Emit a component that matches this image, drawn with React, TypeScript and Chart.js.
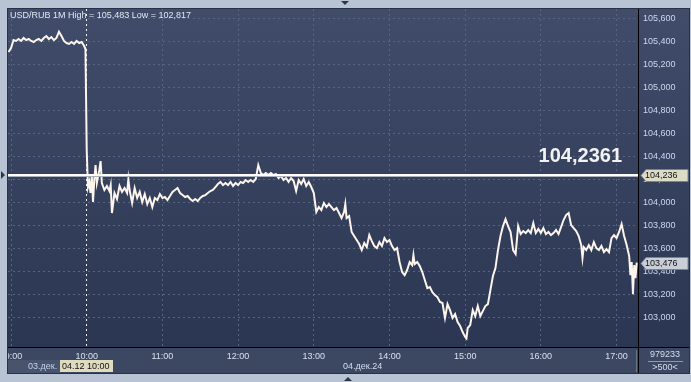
import React, { useEffect, useRef } from 'react';
import { Chart, registerables } from 'chart.js';

Chart.register(...registerables);

// ---- data (minutes after 09:00, USD/RUB price) ----
const minutes = [
  -2, 0, 2, 4, 6, 8, 10, 12, 14, 16,
  18, 20, 22, 24, 26, 28, 30, 32, 34, 36,
  38, 40, 42, 44, 46, 48, 50, 52, 54, 56,
  58, 59, 60, 61, 62, 63, 64, 65, 66, 67,
  68, 70, 71, 72, 74, 76, 78, 79, 80, 82,
  84, 86, 88, 90, 92, 93, 94, 96, 98, 100,
  102, 104, 106, 108, 110, 112, 114, 116, 118, 120,
  122, 124, 126, 128, 130, 132, 134, 136, 138, 140,
  142, 144, 146, 148, 150, 152, 154, 156, 158, 160,
  162, 164, 166, 168, 170, 172, 174, 176, 178, 180,
  182, 184, 186, 188, 190, 192, 194, 196, 198, 200,
  202, 204, 206, 208, 210, 212, 214, 216, 218, 220,
  222, 224, 226, 228, 230, 232, 234, 236, 238, 240,
  242, 244, 246, 248, 250, 252, 254, 256, 258, 260,
  262, 264, 265, 266, 268, 270, 272, 274, 276, 278,
  280, 282, 284, 286, 288, 290, 292, 294, 296, 298,
  300, 302, 304, 306, 308, 310, 312, 314, 316, 318,
  319, 320, 322, 324, 326, 328, 330, 332, 334, 336,
  338, 340, 342, 344, 346, 348, 350, 352, 354, 356,
  358, 360, 361, 362, 364, 366, 368, 370, 372, 374,
  376, 378, 380, 382, 384, 386, 388, 390, 392, 394,
  396, 398, 400, 402, 404, 406, 408, 410, 412, 414,
  416, 418, 420, 422, 424, 426, 428, 430, 432, 434,
  436, 438, 440, 442, 444, 446, 448, 450, 452, 453,
  454, 456, 458, 460, 462, 464, 466, 468, 470, 472,
  474, 476, 478, 480, 482, 484, 486, 488, 490, 491,
  492, 493, 494, 495, 496,
];

const prices = [
  105.307, 105.342, 105.411, 105.403, 105.420, 105.403, 105.429, 105.411, 105.420, 105.403,
  105.394, 105.411, 105.420, 105.403, 105.429, 105.446, 105.420, 105.437, 105.411, 105.429,
  105.483, 105.446, 105.403, 105.385, 105.377, 105.394, 105.377, 105.403, 105.385, 105.394,
  105.359, 105.333, 104.455, 104.133, 104.177, 104.081, 104.237, 104.003, 104.194, 104.324,
  104.168, 104.281, 104.359, 104.168, 104.107, 104.142, 104.098, 104.150, 103.907, 104.081,
  104.029, 104.142, 104.090, 104.124, 104.081, 104.203, 104.107, 103.994, 104.124, 104.038,
  104.090, 104.003, 104.072, 103.985, 104.038, 103.959, 104.038, 104.020, 104.072, 104.038,
  104.046, 104.020, 104.055, 104.090, 104.107, 104.124, 104.081, 104.063, 104.046, 104.055,
  104.029, 104.011, 104.029, 104.011, 104.038, 104.055, 104.063, 104.081, 104.098, 104.107,
  104.133, 104.159, 104.177, 104.150, 104.168, 104.150, 104.177, 104.142, 104.168, 104.150,
  104.177, 104.168, 104.194, 104.177, 104.194, 104.177, 104.203, 104.324, 104.255, 104.237,
  104.255, 104.237, 104.255, 104.237, 104.246, 104.211, 104.229, 104.194, 104.211, 104.177,
  104.211, 104.185, 104.098, 104.194, 104.159, 104.203, 104.142, 104.177, 104.133, 104.081,
  103.916, 103.959, 103.933, 103.994, 103.959, 103.985, 103.959, 103.933, 103.950, 103.907,
  103.863, 103.916, 103.985, 103.863, 103.880, 103.742, 103.707, 103.672, 103.637, 103.585,
  103.646, 103.611, 103.715, 103.663, 103.620, 103.602, 103.654, 103.620, 103.689, 103.654,
  103.672, 103.620, 103.585, 103.602, 103.481, 103.394, 103.367, 103.411, 103.481, 103.454,
  103.541, 103.463, 103.481, 103.446, 103.394, 103.324, 103.254, 103.263, 103.219, 103.193,
  103.176, 103.133, 103.124, 102.994, 103.115, 103.063, 102.994, 103.028, 102.959, 102.924,
  102.872, 102.829, 102.817, 102.907, 102.933, 103.063, 103.011, 103.098, 103.011, 103.054,
  103.098, 103.115, 103.237, 103.359, 103.428, 103.585, 103.707, 103.794, 103.854, 103.794,
  103.742, 103.585, 103.550, 103.794, 103.724, 103.750, 103.733, 103.759, 103.733, 103.820,
  103.733, 103.768, 103.733, 103.776, 103.724, 103.742, 103.715, 103.733, 103.759, 103.724,
  103.785, 103.846, 103.889, 103.907, 103.802, 103.776, 103.750, 103.707, 103.628, 103.515,
  103.611, 103.585, 103.628, 103.585, 103.654, 103.602, 103.585, 103.620, 103.567, 103.594,
  103.567, 103.689, 103.715, 103.689, 103.742, 103.811, 103.707, 103.628, 103.533, 103.367,
  103.481, 103.202, 103.454, 103.341, 103.476,
];

const timeLabels = ['09:00', '10:00', '11:00', '12:00', '13:00', '14:00', '15:00', '16:00', '17:00'];
const tickerName = 'USD/RUB 1M';
const levelPrice = 104.2361;
const sessionStartMinute = 60;
const prevDateLabel = '03.дек.';
const cursorLabel = '04.12 10:00';
const dateLabel = '04.дек.24';
const volumeText = '979233';
const lotText = '>500<';

const FONT = "'Liberation Sans', Arial, sans-serif";
const FRAME = '#b8c4d4';

const fmt3 = (v: number) => v.toFixed(3).replace('.', ',');
const fmt4 = (v: number) => v.toFixed(4).replace('.', ',');

function drawTag(ctx: CanvasRenderingContext2D, y: number, text: string, fill: string) {
  const x0 = 641, xb = 646, x1 = 688, h = 12;
  ctx.beginPath();
  ctx.moveTo(x0, y);
  ctx.lineTo(xb, y - h / 2);
  ctx.lineTo(x1, y - h / 2);
  ctx.lineTo(x1, y + h / 2);
  ctx.lineTo(xb, y + h / 2);
  ctx.closePath();
  ctx.fillStyle = fill;
  ctx.fill();
  ctx.strokeStyle = '#7d8290';
  ctx.lineWidth = 1;
  ctx.stroke();
  ctx.fillStyle = '#111111';
  ctx.font = `9px ${FONT}`;
  ctx.textAlign = 'left';
  ctx.textBaseline = 'middle';
  ctx.fillText(text, 645, y + 0.5);
}

const panelPlugin = {
  id: 'panel',
  beforeDraw(chart: any) {
    const { ctx, chartArea: a, width, height } = chart;
    ctx.save();
    ctx.fillStyle = FRAME;
    ctx.fillRect(0, 0, width, height);
    const px = 8, py = 9, pr = 689, pb = 373;
    const g = ctx.createLinearGradient(0, a.top, 0, a.bottom);
    g.addColorStop(0, '#404c69');
    g.addColorStop(1, '#2b3652');
    ctx.fillStyle = g;
    ctx.fillRect(px, py, pr - px, a.bottom - py);
    ctx.fillStyle = '#3c4862';
    ctx.fillRect(px, a.bottom, pr - px, pb - a.bottom);
    ctx.fillStyle = '#48546e';
    ctx.fillRect(px, 360, 52, pb - 360);
    ctx.restore();
  },
  afterDatasetsDraw(chart: any) {
    const { ctx, chartArea: a, scales } = chart;
    const y = Math.round(scales.y.getPixelForValue(levelPrice));
    ctx.save();
    ctx.fillStyle = '#ffffff';
    ctx.fillRect(a.left, y - 1, a.right - a.left, 2);
    ctx.fillStyle = '#aab0bd';
    ctx.fillRect(a.left, y + 1, a.right - a.left, 1);
    ctx.fillStyle = '#f2f2f2';
    ctx.font = `bold 20px ${FONT}`;
    ctx.textAlign = 'right';
    ctx.textBaseline = 'alphabetic';
    ctx.fillText(fmt4(levelPrice), 622, y - 13);
    ctx.restore();
  },
  afterDraw(chart: any) {
    const { ctx, chartArea: a, scales, width, height } = chart;
    ctx.save();
    // separators
    ctx.fillStyle = '#000000';
    ctx.fillRect(638, 9, 1, 364);
    ctx.fillRect(8, a.bottom, 681, 1);
    ctx.fillStyle = '#6c7890';
    ctx.fillRect(636, 350, 1, 22);
    // price tags
    drawTag(ctx, Math.round(scales.y.getPixelForValue(levelPrice)) + 0.5, fmt3(levelPrice), '#dcdcc6');
    const last = prices[prices.length - 1];
    drawTag(ctx, Math.round(scales.y.getPixelForValue(last)) + 0.5, fmt3(last), '#c9ced9');
    // title
    const hi = Math.max(...prices);
    const lo = Math.min(...prices);
    ctx.fillStyle = '#e1e8f3';
    ctx.font = `9px ${FONT}`;
    ctx.textAlign = 'left';
    ctx.textBaseline = 'alphabetic';
    ctx.fillText(`${tickerName} High = ${fmt3(hi)} Low = ${fmt3(lo)}`, 10, 18);
    // bottom date row
    ctx.textBaseline = 'middle';
    ctx.fillStyle = '#c3d0e6';
    ctx.fillText(prevDateLabel, 28, 366.5);
    ctx.fillStyle = '#dedbbf';
    ctx.fillRect(60, 360, 53, 12);
    ctx.fillStyle = '#111111';
    ctx.fillText(cursorLabel, 62, 366.5);
    ctx.fillStyle = '#d3deef';
    ctx.fillText(dateLabel, 343, 366.5);
    // right bottom cell
    ctx.textAlign = 'center';
    ctx.fillStyle = '#d3deef';
    ctx.fillText(volumeText, 665, 355);
    ctx.fillText(lotText, 665, 367.5);
    ctx.fillStyle = '#8c98ae';
    ctx.fillRect(648, 361, 35, 1);
    // panel border + frame overlay on the left
    ctx.fillStyle = FRAME;
    ctx.fillRect(0, 0, 8, height);
    ctx.fillRect(0, 373, width, height - 373);
    ctx.fillRect(689, 0, width - 689, height);
    ctx.strokeStyle = '#28304a';
    ctx.lineWidth = 1;
    ctx.strokeRect(7.5, 8.5, 682, 365);
    // cursor markers
    ctx.fillStyle = '#2f3647';
    ctx.beginPath();
    ctx.moveTo(341, 1); ctx.lineTo(349, 1); ctx.lineTo(345, 5); ctx.closePath(); ctx.fill();
    ctx.beginPath();
    ctx.moveTo(344, 381); ctx.lineTo(352, 381); ctx.lineTo(348, 377); ctx.closePath(); ctx.fill();
    ctx.beginPath();
    const ly = Math.round(scales.y.getPixelForValue(levelPrice));
    ctx.moveTo(1, ly - 4); ctx.lineTo(1, ly + 4); ctx.lineTo(5, ly); ctx.closePath(); ctx.fill();
    ctx.restore();
  },
};

export default function App() {
  const ref = useRef<HTMLCanvasElement | null>(null);

  useEffect(() => {
    if (!ref.current) return;
    const data = minutes.map((m, i) => ({ x: m, y: prices[i] }));
    const chart = new Chart(ref.current, {
      type: 'line',
      data: {
        datasets: [
          {
            label: tickerName,
            data,
            borderColor: '#fdf4ec',
            borderWidth: 2,
            pointRadius: 0,
            tension: 0,
            fill: false,
          },
        ],
      },
      options: {
        animation: false,
        responsive: false,
        devicePixelRatio: 1,
        layout: { padding: { left: 8, top: 9, right: 0, bottom: 0 } },
        plugins: { legend: { display: false }, tooltip: { enabled: false }, title: { display: false } },
        font: { family: FONT, size: 9 } as any,
        scales: {
          x: {
            type: 'linear',
            min: -2.4,
            max: 497,
            afterFit: (s: any) => {
              s.height = 35;
              s.paddingLeft = 0;
              s.paddingRight = 0;
            },
            ticks: {
              stepSize: 60,
              includeBounds: false,
              maxRotation: 0,
              autoSkip: false,
              padding: 4,
              color: '#d7e0ee',
              font: { family: FONT, size: 9 },
              callback: (v: any) => timeLabels[Math.round(Number(v) / 60)] ?? '',
            },
            grid: {
              drawTicks: false,
              lineWidth: 1,
              color: (c: any) => (c.tick && c.tick.value === sessionStartMinute ? '#f4f4f4' : '#56647f'),
            },
            border: { display: false, dash: [2, 3] },
          },
          y: {
            type: 'linear',
            position: 'right',
            min: 102.742,
            max: 105.681,
            afterFit: (s: any) => {
              s.width = 53;
              s.paddingTop = 0;
              s.paddingBottom = 0;
            },
            ticks: {
              stepSize: 0.2,
              includeBounds: false,
              padding: 5,
              color: '#cad8ee',
              font: { family: FONT, size: 9 },
              callback: (v: any) => (Number(v) < 102.9 ? '' : fmt3(Number(v))),
            },
            grid: {
              drawTicks: false,
              lineWidth: 1,
              color: (c: any) => (c.tick && c.tick.value < 102.9 ? 'rgba(0,0,0,0)' : '#56647f'),
            },
            border: { display: false, dash: [2, 3] },
          },
        },
      },
      plugins: [panelPlugin],
    });
    return () => chart.destroy();
  }, []);

  return (
    <div style={{ position: 'absolute', left: 0, top: 0, width: 691, height: 382 }}>
      <canvas ref={ref} width={691} height={382} style={{ display: 'block' }} />
    </div>
  );
}
